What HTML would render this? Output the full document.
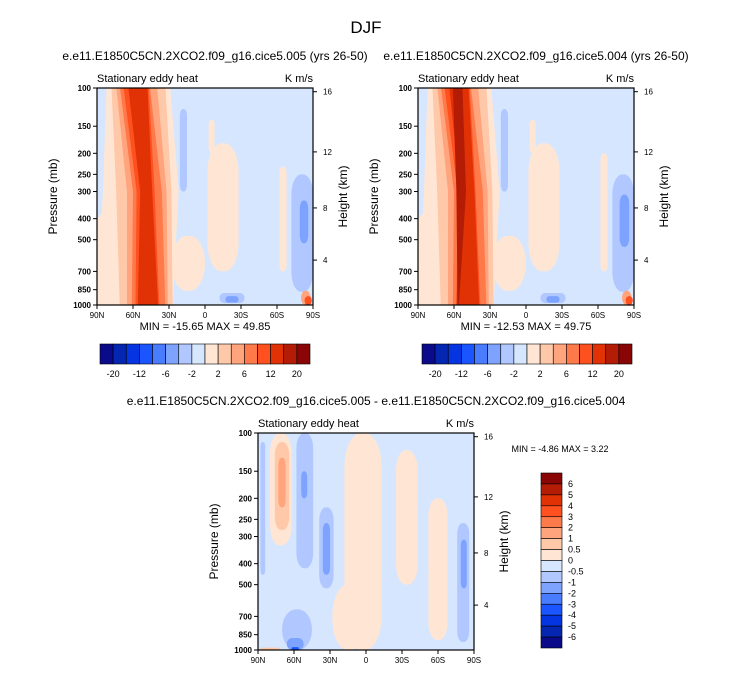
<!DOCTYPE html>
<html><head><meta charset="utf-8"><style>
body{margin:0;background:#fff;font-family:"Liberation Sans",sans-serif}
svg text{font-family:"Liberation Sans",sans-serif}
</style></head><body>
<svg id="s" width="733" height="673" xmlns="http://www.w3.org/2000/svg">
<text x="366" y="33" font-size="17" text-anchor="middle">DJF</text>
</svg>
<script>
const colors=["#0a0a8a","#0526b0","#0535e0","#1a55ff","#4a7cff","#7ea3ff","#b0c8ff","#d6e6ff","#ffe6d4","#ffc8a8","#ffa47c","#ff7a4a","#ff5020","#e03205","#b51c05","#8a0505"];
const cbLabels1=["-20","-12","-6","-2","2","6","12","20"];
const cbLabels3=["6","5","4","3","2","1","0.5","0","-0.5","-1","-2","-3","-4","-5","-6"];
const latTicks=[90,60,30,0,-30,-60,-90];
const presTicks=[100,150,200,250,300,400,500,700,850,1000];
const htTicks=[4,8,12,16];
const htPres=[621,357,197,104];
// band levels: [level, topL, topR, midL(300mb), midR, botL, botR]
const bands1=[[8,82,29,85,22,90,27],[9,78,33,74,28,71,27],[10,74,40,65,32,65,31],[11,71,46,60,36,61,33],[12,68,47,57,42,58,38],[13,64,48,54,44,56,39]];
const bands2=[[8,82,29,85,22,90,27],[9,78,33,74,28,71,27],[10,74,40,65,32,65,31],[11,71,46,60,36,61,33],[12,68,47,57,42,58,38],[13,64,48,55,43,58,39],[14,61,53,58,50,57,56]];
const bands3=[];
// blobs: [level, latLeft, latRight, pTop, pBot]
const blobs1=[[8,-2,-28,180,700],[8,-3,-8,140,200],[8,28,0,480,860],[8,-62,-68,230,700],[8,90,80,380,1000],[6,84,70,200,700],[5,81,74,300,560],[6,21,15,125,300],[6,-72,-90,250,870],[5,-79,-86,330,520],[6,-12,-33,880,980],[5,-17,-28,910,975],[10,-80,-88,860,1000],[12,-83,-89,910,1000]];
const blobs2=[[8,-2,-28,180,700],[8,-3,-8,140,200],[8,28,0,480,860],[8,-62,-68,200,700],[8,90,80,380,1000],[6,84,70,200,710],[5,81,74,300,560],[6,21,15,125,300],[6,-72,-90,250,870],[5,-78,-86,310,540],[6,-12,-33,880,980],[5,-17,-28,910,975],[10,-80,-88,860,1000],[12,-83,-89,910,1000]];
const blobs3=[[8,18,-13,100,1000],[8,28,0,500,1000],[8,-25,-43,120,500],[8,-52,-68,200,900],[8,80,62,100,330],[9,76,64,110,280],[10,73,67,130,220],[6,88,84,110,450],[6,58,44,100,420],[5,54,49,150,200],[6,39,27,220,520],[5,36,30,260,450],[6,-76,-86,260,920],[5,-79,-84,310,520],[6,70,45,650,1000],[5,66,52,880,1000],[3,62,56,970,1000],[9,88,72,975,1000]];
const NS="http://www.w3.org/2000/svg";
const svg=document.getElementById('s');
function el(t,a,p){const e=document.createElementNS(NS,t);for(const k in a)e.setAttribute(k,a[k]);(p||svg).appendChild(e);return e;}
function txt(x,y,s,sz,anc,p){const e=el('text',{x:x,y:y,'font-size':sz,'text-anchor':anc||'start'},p);e.textContent=s;return e;}
function panel(x0,y0,title,bands,blobs,minmax,mmx,mmy,name){
  const w=216,h=217;
  const g=el('g',{});
  
  
  const X=lat=>x0+(90-lat)/180*w;
  const Y=p=>y0+h-(3-Math.log10(p))*h;
  const cp='c'+name;
  const d=el('clipPath',{id:cp},g);el('rect',{x:x0,y:y0,width:w,height:h},d);
  const f=el('g',{'clip-path':'url(#'+cp+')'},g);
  el('rect',{x:x0,y:y0,width:w,height:h,fill:colors[7]},f);
  const bl=blobs.slice().sort((a,b)=>Math.abs(a[0]-7.5)-Math.abs(b[0]-7.5));
  bl.forEach(b=>{const x1=X(b[1]),x2=X(b[2]),y1=Y(b[3]),y2=Y(b[4]);const ww=x2-x1,hh=y2-y1;const r=Math.min(ww,hh)/2.2;const e=el('rect',{x:x1,y:y1,width:ww,height:hh,rx:r,ry:Math.min(hh/2,r*2),fill:colors[b[0]]},f);});
  bands.forEach(b=>{const e=el('polygon',{points:`${X(b[1])},${Y(100)-2} ${X(b[2])},${Y(100)-2} ${X(b[4])},${Y(300)} ${X(b[6])},${Y(1000)+2} ${X(b[5])},${Y(1000)+2} ${X(b[3])},${Y(300)}`,fill:colors[b[0]],'stroke-linejoin':'round'},f);});
  el('rect',{x:x0,y:y0,width:w,height:h,fill:'none',stroke:'#000','stroke-width':1.2},g);
  latTicks.forEach(l=>{el('line',{x1:X(l),x2:X(l),y1:y0+h,y2:y0+h+4,stroke:'#000'},g);txt(X(l),y0+h+13,l==0?'0':(Math.abs(l)+(l>0?'N':'S')),8,'middle',g);});
  presTicks.forEach(p=>{el('line',{x1:x0-4,x2:x0,y1:Y(p),y2:Y(p),stroke:'#000'},g);const t=txt(x0-6,Y(p)+3,String(p),8,'end',g);t.setAttribute('font-weight','bold');});
  htTicks.forEach((k,i)=>{const yy=Y(htPres[i]);el('line',{x1:x0+w,x2:x0+w+4,y1:yy,y2:yy,stroke:'#000'},g);txt(x0+w+10,yy+3,String(k),8,'start',g);});
  const yt=txt(0,0,'Pressure (mb)',12,'middle',g);yt.setAttribute('transform',`translate(${x0-40},${y0+h/2}) rotate(-90)`);
  const ht=txt(0,0,'Height (km)',12,'middle',g);ht.setAttribute('transform',`translate(${x0+w+34},${y0+h/2}) rotate(-90)`);
  txt(x0,y0-6,'Stationary eddy heat',11,'start',g);
  txt(x0+w,y0-6,'K m/s',11,'end',g);
  if(title)txt(x0+w/2+10,y0-28,title,12,'middle',g);
  txt(mmx,mmy,minmax,11,'middle',g);
}
function hbar(x0,y0,name){
  const g=el('g',{});
  const bw=210/16;
  colors.forEach((c,i)=>el('rect',{x:x0+i*bw,y:y0,width:bw,height:20,fill:c,stroke:'#000','stroke-width':0.6},g));
  cbLabels1.forEach((l,i)=>txt(x0+bw*(1+2*i),y0+33,l,9,'middle',g));
}
panel(97,88,'e.e11.E1850C5CN.2XCO2.f09_g16.cice5.005 (yrs 26-50)',bands1,blobs1,'MIN = -15.65  MAX =  49.85',205,330,'panel-left');
panel(418,88,'e.e11.E1850C5CN.2XCO2.f09_g16.cice5.004 (yrs 26-50)',bands2,blobs2,'MIN = -12.53  MAX =  49.75',526,330,'panel-right');
panel(258,433,'e.e11.E1850C5CN.2XCO2.f09_g16.cice5.005 - e.e11.E1850C5CN.2XCO2.f09_g16.cice5.004',bands3,blobs3,'',0,0,'panel-diff');
hbar(100,344,'colorbar-left');hbar(422,344,'colorbar-right');
txt(560,452,'MIN =  -4.86  MAX =   3.22',9,'middle');
const vg=el('g',{});
const bh=175/16;
colors.slice().reverse().forEach((c,i)=>el('rect',{x:541,y:473+i*bh,width:21,height:bh,fill:c,stroke:'#000','stroke-width':0.6},vg));
cbLabels3.forEach((l,i)=>txt(568,473+bh*(i+1)+3,l,9,'start',vg));
</script>
</body></html>
